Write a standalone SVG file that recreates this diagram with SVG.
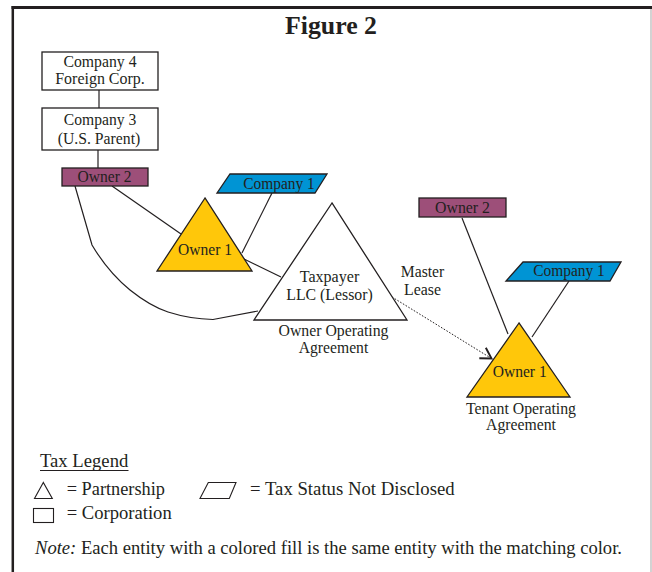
<svg xmlns="http://www.w3.org/2000/svg" width="652" height="572" viewBox="0 0 652 572">
<defs>
<style>
text{font-family:"Liberation Serif","Times New Roman",serif;fill:#231f20}
.t{font-size:16px;text-anchor:middle}
.lg{font-size:18px}
.shape{stroke:#231f20;stroke-width:1.3}
.ln{stroke:#231f20;stroke-width:1.2;fill:none}
.purple{fill:#9d4f79}
.blue{fill:#0094d4}
.gold{fill:#ffc70a}
.white{fill:#ffffff}
</style>
<marker id="openArrow" viewBox="-13 -8 15 16" refX="0" refY="0" markerWidth="15" markerHeight="16" markerUnits="userSpaceOnUse" orient="auto">
<path d="M-10.5,-6.2 L0,0 L-10.5,6.2" fill="none" stroke="#231f20" stroke-width="1.9" stroke-linejoin="miter"/>
</marker>
</defs>
<rect width="652" height="572" fill="#ffffff"/>
<g id="frame">
<line x1="11.5" y1="7.5" x2="652" y2="7.5" stroke="#231f20" stroke-width="3"/>
<line x1="12.8" y1="6" x2="12.8" y2="572" stroke="#231f20" stroke-width="2.5"/>
<line x1="651" y1="9" x2="651" y2="572" stroke="#b5b5b5" stroke-width="1.2"/>
</g>
<text id="title" x="331" y="33.5" font-size="26" font-weight="bold" text-anchor="middle" textLength="92" lengthAdjust="spacingAndGlyphs">Figure 2</text>
<g id="connectors">
<line class="ln" x1="99" y1="90" x2="99" y2="108"/>
<line class="ln" x1="98" y1="150" x2="98" y2="168"/>
<line class="ln" x1="112" y1="186" x2="181" y2="234"/>
<line class="ln" x1="272" y1="193" x2="242" y2="253"/>
<line class="ln" x1="244" y1="259" x2="281" y2="277"/>
<path class="ln" d="M75,186 L92,245 Q108,272 130,290 Q150,306 168,312 Q190,319 213,319.5 L258,311"/>
<line class="ln" x1="462" y1="218" x2="508" y2="334"/>
<line class="ln" x1="569" y1="281" x2="532" y2="337"/>
<line id="master-lease" x1="392" y1="297" x2="491.5" y2="358.5" stroke="#231f20" stroke-width="1" stroke-dasharray="1.6 1.6" marker-end="url(#openArrow)"/>
</g>
<g id="company4">
<rect class="shape white" x="42" y="52" width="116" height="38"/>
<text class="t" x="100" y="67" textLength="73" lengthAdjust="spacingAndGlyphs">Company 4</text>
<text class="t" x="100" y="84" textLength="89.5" lengthAdjust="spacingAndGlyphs">Foreign Corp.</text>
</g>
<g id="company3">
<rect class="shape white" x="42" y="108" width="116" height="42"/>
<text class="t" x="100" y="124.5" textLength="72.5" lengthAdjust="spacingAndGlyphs">Company 3</text>
<text class="t" x="99" y="143.5" textLength="82.5" lengthAdjust="spacingAndGlyphs">(U.S. Parent)</text>
</g>
<g id="owner2-left">
<rect class="shape purple" x="62" y="168" width="86" height="18"/>
<text class="t" x="104.5" y="181.8" textLength="54" lengthAdjust="spacingAndGlyphs">Owner 2</text>
</g>
<g id="company1-left">
<polygon class="shape blue" points="230,174 327,174 315,193 217,193"/>
<text class="t" x="279" y="188.5" textLength="71.5" lengthAdjust="spacingAndGlyphs">Company 1</text>
</g>
<g id="owner1-left">
<polygon class="shape gold" points="205,198 157,271 252,271"/>
<text class="t" x="205" y="255" textLength="54" lengthAdjust="spacingAndGlyphs">Owner 1</text>
</g>
<g id="taxpayer">
<polygon class="shape white" points="332,203 254,320 407,320"/>
<text class="t" x="329.5" y="282" textLength="59.5" lengthAdjust="spacingAndGlyphs">Taxpayer</text>
<text class="t" x="329.5" y="300" textLength="86.5" lengthAdjust="spacingAndGlyphs">LLC (Lessor)</text>
<text class="t" x="333.5" y="336" textLength="110" lengthAdjust="spacingAndGlyphs">Owner Operating</text>
<text class="t" x="333.5" y="353" textLength="69.5" lengthAdjust="spacingAndGlyphs">Agreement</text>
</g>
<g id="master-lease-label">
<text class="t" x="422.5" y="277" textLength="43.5" lengthAdjust="spacingAndGlyphs">Master</text>
<text class="t" x="422.5" y="294.5" textLength="37" lengthAdjust="spacingAndGlyphs">Lease</text>
</g>
<g id="owner2-right">
<rect class="shape purple" x="419" y="198" width="87" height="19"/>
<text class="t" x="462.5" y="213" textLength="55" lengthAdjust="spacingAndGlyphs">Owner 2</text>
</g>
<g id="company1-right">
<polygon class="shape blue" points="523,262 621,262 610,281 506,281"/>
<text class="t" x="569" y="275.5" textLength="71.5" lengthAdjust="spacingAndGlyphs">Company 1</text>
</g>
<g id="owner1-right">
<polygon class="shape gold" points="519,323 467,397 570,397"/>
<text class="t" x="519.7" y="377" textLength="54" lengthAdjust="spacingAndGlyphs">Owner 1</text>
<text class="t" x="521" y="413.5" textLength="110" lengthAdjust="spacingAndGlyphs">Tenant Operating</text>
<text class="t" x="521" y="430" textLength="70" lengthAdjust="spacingAndGlyphs">Agreement</text>
</g>
<g id="legend">
<text class="lg" x="40" y="467" textLength="88.3" lengthAdjust="spacingAndGlyphs">Tax Legend</text>
<line x1="40" y1="470.5" x2="128.5" y2="470.5" stroke="#231f20" stroke-width="1"/>
<polygon points="43.3,482.5 34.5,498.5 52.3,498.5" fill="none" stroke="#231f20" stroke-width="1.1"/>
<text class="lg" x="66.7" y="495" textLength="98.3" lengthAdjust="spacingAndGlyphs">= Partnership</text>
<polygon points="208.3,482.5 236,482.5 229.3,498.5 200,498.5" fill="none" stroke="#231f20" stroke-width="1.1"/>
<text class="lg" x="250" y="495" textLength="204.7" lengthAdjust="spacingAndGlyphs">= Tax Status Not Disclosed</text>
<rect x="33.5" y="508.5" width="20" height="14" fill="none" stroke="#231f20" stroke-width="1.1"/>
<text class="lg" x="66.7" y="519" textLength="105" lengthAdjust="spacingAndGlyphs">= Corporation</text>
<text class="lg" x="35" y="554" textLength="587" lengthAdjust="spacingAndGlyphs"><tspan font-style="italic">Note:</tspan> Each entity with a colored fill is the same entity with the matching color.</text>
</g>
</svg>
